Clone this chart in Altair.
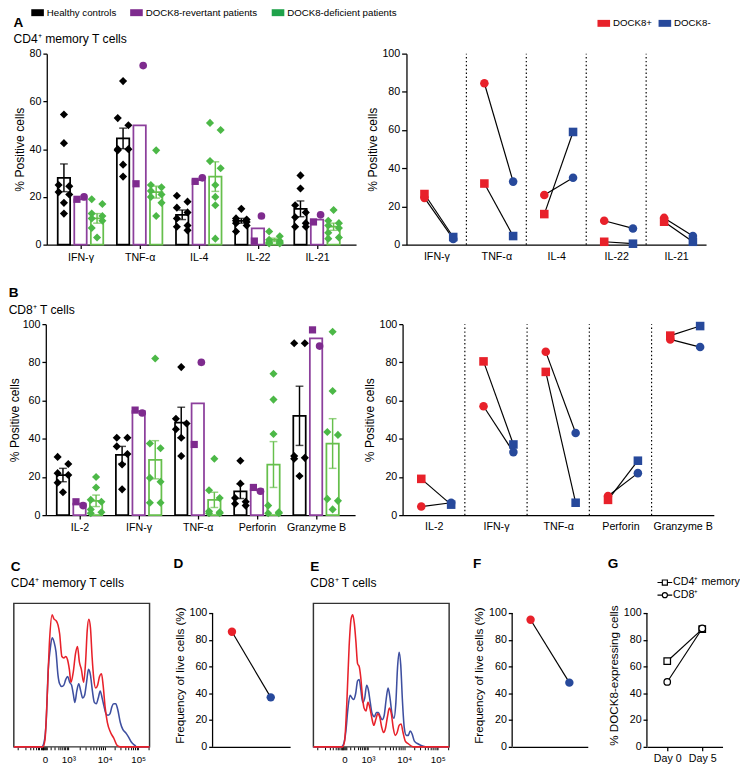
import altair as alt
import pandas as pd

FONT = "Liberation Sans"
BLACK = "#000000"
PURPLE = "#7E2B8E"
PURPLE_BAR = "#8C3F9C"
GREEN_LEG = "#1FA24A"
GREEN_PT = "#4CB847"
GREEN_BAR = "#66BF4C"
RED = "#E8212A"
BLUE = "#27499B"
BLUE_H = "#3E4FA0"

groups = ["Healthy controls", "DOCK8-revertant patients", "DOCK8-deficient patients"]
statuses = ["DOCK8+", "DOCK8-"]

# ---------------- Panel A: CD4+ memory T cells ----------------
a_cytokines = ["IFN-γ", "TNF-α", "IL-4", "IL-22", "IL-21"]
a_healthy = [
    [54.5, 42.5, 25, 24.5, 22, 21, 17.5, 13],
    [68.5, 53, 50, 40, 40, 39.5, 33.5, 28.5],
    [20.5, 18, 15.5, 13.5, 11, 8, 7.5, 6],
    [15, 11, 10.5, 10, 9.5, 9, 8, 5.5],
    [29, 23.5, 16.5, 13.5, 11.5, 9, 7.5, 7.5],
]
a_healthy_mean = [28, 44.5, 12.5, 10, 15]
a_healthy_sem = [5.8, 4.3, 2.0, 1.0, 3.3]
a_rev_circle = [20, 75, 28, 12, 12.5]
a_rev_square = [19, 25.5, 26.5, 1.5, 9.5]
a_rev_mean = [19, 50, 27, 6.8, 10.5]
a_deficient = [
    [19, 17, 13, 12, 11, 10, 7, 3],
    [39.5, 25, 24, 22.5, 21, 20, 17.5, 12],
    [51, 48, 35, 32, 25, 20, 16.5, 2.5],
    [5.5, 3.5, 2, 1.5, 1, 1, 0.5, 0.5],
    [14.5, 10, 9, 8, 7, 5, 3, 2.5],
]
a_def_mean = [11, 22, 28.5, 2, 7.5]
a_def_sem = [2, 2.5, 6.2, 0.7, 1.5]

# right: DOCK8+ vs DOCK8- sorted cells, two patients (circle / square)
a_circle_pos = [24.5, 84.5, 26, 12.5, 14]
a_circle_neg = [3, 33, 35, 8.5, 4.5]
a_square_pos = [26.5, 32, 16, 1.5, 12]
a_square_neg = [4, 4.5, 59, 0.5, 1.5]

# ---------------- Panel B: CD8+ T cells ----------------
b_cytokines = ["IL-2", "IFN-γ", "TNF-α", "Perforin", "Granzyme B"]
b_healthy = [
    [30.5, 26.8, 22, 21, 17, 12],
    [40.5, 40.5, 36, 32, 26.5, 13.5],
    [77.5, 50.5, 48, 45, 40.5, 31],
    [28.5, 16.5, 9, 7, 6, 5],
    [90, 90, 31, 30, 29.5, 20.5],
]
b_healthy_mean = [21, 31.5, 48.5, 12.5, 52]
b_healthy_sem = [3.5, 4.5, 8, 3.8, 15.5]
b_rev_circle = [5, 53.5, 80, 12.5, 88.5]
b_rev_square = [7, 55, 37, 14.5, 97]
b_rev_mean = [6, 54.5, 58.5, 13.5, 92.5]
b_deficient = [
    [20, 14.5, 8, 7, 3, 1.5, 1],
    [82, 37.5, 35, 19.5, 17.5, 6.5, 6.5],
    [29.5, 13, 9, 2, 1.5, 1, 1],
    [74, 60.5, 42.5, 5, 1.5, 1, 1],
    [96, 65, 43.5, 42, 8.5, 7.5, 3],
]
b_def_mean = [7.5, 29, 8, 26.5, 37.5]
b_def_sem = [3, 10, 4, 12, 13]

b_circle_pos = [4.5, 57, 85.5, 10, 92]
b_circle_neg = [6.5, 33, 43, 22, 88]
b_square_pos = [19, 80.5, 75, 8, 94]
b_square_neg = [5.5, 37, 6.5, 28.5, 99]

# ---------------- Histograms (display channel vs % of max) ----------------
c_channel_red = [22, 112, 118, 125, 132, 140, 146, 152, 158, 163, 170, 176, 182, 187, 193, 198, 205, 212, 218, 224,
                 230, 237, 243, 248, 253, 258, 263, 268, 274, 280, 286, 292, 297, 303, 310, 320, 330, 340, 350, 440]
c_red = [0, 0, 5, 36, 74, 92, 89, 88, 85, 79, 63, 62, 63, 61, 54, 45, 52, 65, 70, 59,
         54, 45, 59, 81, 89, 83, 63, 48, 41, 43, 49, 51, 43, 28, 17, 10, 6, 1, 0, 0]
c_channel_blue = [22, 108, 115, 122, 128, 134, 140, 146, 152, 158, 163, 170, 176, 182, 188, 194, 200, 205, 210, 216,
                  222, 228, 234, 240, 246, 252, 258, 264, 270, 276, 282, 288, 294, 300, 306, 312, 318, 324, 330, 336,
                  342, 350, 358, 366, 375, 385, 395, 400, 440]
c_blue = [0, 0, 3, 19, 54, 68, 76, 73, 66, 50, 44, 42, 43, 47, 49, 45, 43, 37, 31, 39,
          44, 39, 34, 36, 45, 54, 50, 39, 31, 30, 34, 39, 34, 28, 23, 22, 23, 28, 30, 30,
          26, 17, 12, 10, 7, 3, 1, 0, 0]
e_channel_red = [22, 112, 118, 125, 132, 138, 143, 148, 153, 158, 163, 168, 173, 178, 184, 190, 196, 202, 208, 214,
                 220, 226, 232, 238, 244, 250, 256, 262, 268, 274, 280, 286, 292, 298, 305, 315, 330, 440]
e_red = [0, 0, 4, 31, 70, 89, 92, 86, 73, 58, 56, 48, 35, 27, 25, 31, 27, 20, 15, 19,
         23, 21, 14, 10, 13, 21, 27, 23, 13, 8, 10, 15, 16, 10, 4, 2, 0, 0]
e_channel_blue = [22, 108, 115, 122, 128, 135, 141, 146, 152, 158, 163, 168, 174, 180, 186, 191, 197, 203, 210, 216,
                  222, 228, 234, 240, 246, 252, 258, 264, 270, 276, 281, 286, 291, 296, 302, 308, 314, 320, 326, 333,
                  345, 360, 370, 440]
e_blue = [0, 0, 2, 11, 26, 36, 34, 33, 37, 46, 47, 40, 31, 34, 43, 40, 31, 23, 21, 24,
          24, 21, 19, 22, 33, 41, 34, 23, 20, 31, 55, 66, 57, 33, 13, 8, 8, 11, 9, 4,
          2, 0.5, 0, 0]
hist_major = [118, 190, 302, 405]
hist_major_labels = ["0", "10³", "10⁴", "10⁵"]
hist_minor = [35, 58, 72, 82, 90, 96, 101, 105, 108, 111, 113, 115, 121, 123, 135, 148, 158, 166, 172, 177, 181,
              185, 224, 243, 257, 268, 277, 285, 291, 297, 333, 351, 364, 374, 382, 389, 395, 400, 436]

# ---------------- D, F, G ----------------
d_vals = [86, 37]
f_vals = [95, 48]
days = ["Day 0", "Day 5"]
g_series = ["CD4⁺ memory", "CD8⁺"]
g_cd4 = [64, 88]
g_cd8 = [48.5, 88.5]

IND = dict(color="independent", shape="independent", stroke="independent", fill="independent", size="independent")
RECT = "M-1,-0.55H1V0.55H-1Z"
PATH_SQ = "M-1.6,0H-0.55M0.55,0H1.6M-0.55,-0.55H0.55V0.55H-0.55Z"
PATH_CI = "M-1.6,0H-0.55M0.55,0H1.6M-0.55,0A0.55,0.55,0,1,1,0.55,0A0.55,0.55,0,1,1,-0.55,0Z"

H_A, H_B, H_C = 197, 197, 148
YTOP = 100 * H_C / 138.0


def beeswarm(values, thresh):
    order = sorted(range(len(values)), key=lambda i: -values[i])
    offs = [0.0] * len(values)
    clusters, cur = [], [order[0]]
    for a, b in zip(order, order[1:]):
        if values[a] - values[b] < thresh:
            cur.append(b)
        else:
            clusters.append(cur)
            cur = [b]
    clusters.append(cur)
    for cl in clusters:
        if len(cl) > 1:
            for j, idx in enumerate(cl):
                offs[idx] = -0.09 if j % 2 == 0 else 0.09
    return offs


def title(letter, sub=None, offset=0):
    kw = dict(text=letter, anchor="start", fontSize=14, fontWeight="bold", offset=offset, font=FONT, color="black")
    if sub:
        kw.update(subtitle=sub, subtitleFontSize=12.5, subtitleFont=FONT, subtitleColor="black", subtitlePadding=4)
    return alt.TitleParams(**kw)


def spacer():
    return alt.Chart(pd.DataFrame({"z": [0]})).mark_point(opacity=0, size=0).properties(width=1, height=1)


def spacer_legend():
    # legend of the three subject groups, shown at the top of the figure
    return alt.Chart(pd.DataFrame({"grp": groups})).mark_square(opacity=0, size=0).encode(
        fill=alt.Fill("grp:N", scale=alt.Scale(domain=groups, range=[BLACK, PURPLE, GREEN_LEG]),
                      legend=alt.Legend(orient="none", legendX=18, legendY=-49, direction="horizontal",
                                        title=None, symbolType=RECT, symbolSize=169, symbolOpacity=1,
                                        symbolStrokeWidth=0, labelFontSize=10, columnPadding=14,
                                        labelOffset=3, offset=0))).properties(width=1, height=1)


def bar_panel(cytos, healthy, h_mean, h_sem, rev_c, rev_s, r_mean, defi, d_mean, d_sem,
              ymax, xdom, width, height, ttl, tick_size, title_pad):
    off = [-0.28, 0.0, 0.28]
    half = 0.105
    ppu = height / ymax
    bars, errs, caps, pts = [], [], [], []
    for i in range(len(cytos)):
        means = [h_mean[i], r_mean[i], d_mean[i]]
        for g in range(3):
            xc = i + off[g]
            bars.append({"grp": groups[g], "x0": xc - half, "x1": xc + half, "m": means[g]})
        for g, m, s in ((0, h_mean[i], h_sem[i]), (2, d_mean[i], d_sem[i])):
            xc = i + off[g]
            errs.append({"grp": groups[g], "xc": xc, "lo": m - s, "hi": m + s})
            caps.append({"grp": groups[g], "xc": xc, "y": m - s})
            caps.append({"grp": groups[g], "xc": xc, "y": m + s})
        for g, vals in ((0, healthy[i]), (2, defi[i])):
            for v, o in zip(vals, beeswarm(vals, 8.5 / ppu)):
                pts.append({"grp": groups[g], "shp": "diamond", "xp": i + off[g] + o, "v": v})
        pts.append({"grp": groups[1], "shp": "square", "xp": i + off[1] - 0.06, "v": rev_s[i]})
        pts.append({"grp": groups[1], "shp": "circle", "xp": i + off[1] + 0.06, "v": rev_c[i]})
    xs = alt.Scale(domain=xdom, nice=False, zero=False)
    ys = alt.Scale(domain=[0, ymax], nice=False)
    label_expr = "[" + ",".join("'%s'" % c for c in cytos) + "][datum.value]"
    yvals = list(range(0, ymax + 1, 20))
    xaxis = alt.Axis(values=list(range(len(cytos))), tickCount=len(cytos), labelExpr=label_expr, title=None,
                     tickSize=4, labelFontSize=11, labelPadding=3, grid=False, labelOverlap=False)
    yaxis = alt.Axis(values=yvals, tickCount=len(yvals), title="% Positive cells", tickSize=tick_size,
                     titlePadding=title_pad, labelFontSize=11, titleFontSize=12.5, grid=False, labelPadding=2,
                     labelOverlap=False)
    stroke_scale = alt.Scale(domain=groups, range=[BLACK, PURPLE_BAR, GREEN_BAR])
    color_scale = alt.Scale(domain=groups, range=[BLACK, PURPLE, GREEN_PT])
    b = alt.Chart(pd.DataFrame(bars)).mark_bar(fill="white", strokeWidth=1.8).encode(
        x=alt.X("x0:Q", scale=xs, axis=xaxis), x2="x1:Q",
        y=alt.Y("m:Q", scale=ys, axis=yaxis), y2=alt.datum(0),
        stroke=alt.Stroke("grp:N", scale=stroke_scale, legend=None))
    e = alt.Chart(pd.DataFrame(errs)).mark_rule(strokeWidth=1.5).encode(
        x="xc:Q", y="lo:Q", y2="hi:Q", stroke=alt.Stroke("grp:N", scale=stroke_scale, legend=None))
    c = alt.Chart(pd.DataFrame(caps)).mark_tick(orient="horizontal", size=8, thickness=1.5).encode(
        x="xc:Q", y="y:Q", fill=alt.Fill("grp:N", scale=stroke_scale, legend=None))
    p = alt.Chart(pd.DataFrame(pts)).mark_point(filled=True, opacity=1).encode(
        x="xp:Q", y="v:Q",
        color=alt.Color("grp:N", scale=color_scale, legend=None),
        shape=alt.Shape("shp:N", scale=alt.Scale(domain=["diamond", "circle", "square"],
                                                  range=["diamond", "circle", "square"]), legend=None),
        size=alt.Size("shp:O", scale=alt.Scale(domain=["diamond", "circle", "square"], range=[70, 55, 50]),
                      legend=None))
    return alt.layer(b, e, c, p).properties(width=width, height=height, title=ttl)


def line_panel(cytos, c_pos, c_neg, s_pos, s_neg, width, height, legend, tick_size):
    rows = []
    for i in range(len(cytos)):
        for pat, pos, neg in (("circle", c_pos[i], c_neg[i]), ("square", s_pos[i], s_neg[i])):
            rows.append({"pair": "%d-%s" % (i, pat), "pat": pat, "st": "DOCK8+", "xp": i + 0.3, "v": pos})
            rows.append({"pair": "%d-%s" % (i, pat), "pat": pat, "st": "DOCK8-", "xp": i + 0.78, "v": neg})
    df = pd.DataFrame(rows)
    n = len(cytos)
    xs = alt.Scale(domain=[0, n], nice=False, zero=False)
    ys = alt.Scale(domain=[0, 100], nice=False)
    label_expr = "[" + ",".join("'%s'" % c for c in cytos) + "][floor(datum.value)]"
    xaxis = alt.Axis(values=[i + 0.5 for i in range(n)], tickCount=n, labelExpr=label_expr, ticks=False,
                     title=None, labelFontSize=11, labelPadding=6, grid=False, labelOverlap=False)
    yaxis = alt.Axis(values=list(range(0, 101, 20)), tickCount=6, title="% Positive cells", tickSize=tick_size,
                     labelFontSize=11, titleFontSize=12.5, grid=False, labelPadding=2, titlePadding=3,
                     labelOverlap=False)
    base = alt.Chart(df).encode(x=alt.X("xp:Q", scale=xs, axis=xaxis), y=alt.Y("v:Q", scale=ys, axis=yaxis))
    lines = base.mark_line(color="black", strokeWidth=1.2).encode(detail="pair:N")
    if legend:
        leg = alt.Legend(orient="none", legendX=197, legendY=-38, direction="horizontal", title=None,
                         symbolType=RECT, symbolSize=169, labelFontSize=10, columnPadding=6, offset=0,
                         symbolStrokeWidth=0, labelOffset=3)
    else:
        leg = None
    pts = base.mark_point(filled=True, opacity=1, size=78).encode(
        color=alt.Color("st:N", scale=alt.Scale(domain=statuses, range=[RED, BLUE]), legend=leg),
        shape=alt.Shape("pat:N", scale=alt.Scale(domain=["circle", "square"], range=["circle", "square"]),
                        legend=None))
    div = alt.Chart(pd.DataFrame({"b": list(range(1, n))})).mark_rule(
        strokeDash=[1.5, 2.5], color="black", strokeWidth=1.2).encode(
        x="b:Q", y=alt.datum(0), y2=alt.datum(100))
    return alt.layer(lines, div, pts).properties(width=width, height=height)


def hist_panel(ch_red, red, ch_blue, blue, width, height, ttl):
    xs = alt.Scale(domain=[22, 440], nice=False, zero=False)
    ys = alt.Scale(domain=[0, 100], nice=False)
    vals = sorted(hist_major + hist_minor)
    expr = "".join("datum.value == %d ? '%s' : " % (v, l) for v, l in zip(hist_major, hist_major_labels)) + "''"
    xaxis = alt.Axis(values=vals, tickCount=len(vals), labelExpr=expr, domain=False, tickSize=3, tickWidth=1,
                     labelFontSize=10, title=None, labelPadding=5, grid=False, labelFlush=False,
                     labelOverlap=False)
    blue_l = alt.Chart(pd.DataFrame({"ch": ch_blue, "v": blue})).mark_line(
        color=BLUE_H, strokeWidth=1.6, interpolate="monotone").encode(
        x=alt.X("ch:Q", scale=xs, axis=xaxis), y=alt.Y("v:Q", scale=ys, axis=None))
    red_l = alt.Chart(pd.DataFrame({"ch": ch_red, "v": red})).mark_line(
        color=RED, strokeWidth=1.6, interpolate="monotone").encode(x="ch:Q", y="v:Q")
    return alt.layer(blue_l, red_l).properties(
        width=width, height=height, title=ttl,
        view=alt.ViewBackground(stroke="#333333", strokeWidth=1.5))


def freq_yaxis(t):
    return alt.Axis(values=[0, 20, 40, 60, 80, 100], tickCount=6, domain=False, title=t, tickSize=4,
                    labelFontSize=11, titleFontSize=12, titlePadding=3, labelPadding=2, grid=False,
                    labelOverlap=False)


def axis_rule():
    return alt.Chart(pd.DataFrame({"a": [0]})).mark_rule(color="black", strokeWidth=1.3).encode(
        x=alt.value(0), y=alt.datum(0), y2=alt.datum(100))


def freq_panel(vals, width, height, ttl, pad):
    df = pd.DataFrame({"st": statuses, "v": vals})
    base = alt.Chart(df).encode(
        x=alt.X("st:N", sort=statuses, scale=alt.Scale(type="point", padding=pad),
                axis=alt.Axis(labels=False, ticks=False, title=None)),
        y=alt.Y("v:Q", scale=alt.Scale(domain=[0, YTOP], nice=False),
                axis=freq_yaxis("Frequency of live cells (%)")))
    line = base.mark_line(color="black", strokeWidth=1.2)
    pts = base.mark_point(filled=True, opacity=1, size=75).encode(
        color=alt.Color("st:N", scale=alt.Scale(domain=statuses, range=[RED, BLUE]), legend=None))
    return alt.layer(line, pts, axis_rule()).properties(width=width, height=height, title=ttl)


def g_panel(width, height, ttl):
    rows = []
    for s, vals in ((g_series[0], g_cd4), (g_series[1], g_cd8)):
        for d, v in zip(days, vals):
            rows.append({"ser": s, "day": d, "v": v})
    df = pd.DataFrame(rows)
    base = alt.Chart(df).encode(
        x=alt.X("day:N", sort=days, scale=alt.Scale(type="point", padding=0.58),
                axis=alt.Axis(title=None, labelAngle=0, tickSize=4, labelFontSize=11, labelPadding=2)),
        y=alt.Y("v:Q", scale=alt.Scale(domain=[0, YTOP], nice=False),
                axis=freq_yaxis("% DOCK8-expressing cells")))
    lines = base.mark_line(color="black", strokeWidth=1.2).encode(detail="ser:N")
    pts = base.mark_point(filled=False, color="black", fill="white", fillOpacity=1, strokeWidth=1.3,
                          size=45, opacity=1).encode(
        shape=alt.Shape("ser:N", scale=alt.Scale(domain=g_series, range=["square", "circle"]), legend=None))
    leg = alt.Chart(pd.DataFrame({"ser2": g_series})).mark_point(opacity=0, color="black").encode(
        shape=alt.Shape("ser2:N", scale=alt.Scale(domain=g_series, range=[PATH_SQ, PATH_CI]),
                        legend=alt.Legend(orient="none", legendX=13, legendY=-27, title=None, symbolSize=90,
                                          symbolOpacity=1, symbolStrokeColor="black", symbolStrokeWidth=1.2,
                                          labelFontSize=11, rowPadding=1, labelOffset=3, offset=0)))
    return alt.layer(lines, pts, axis_rule(), leg).resolve_scale(shape="independent").properties(
        width=width, height=height, title=ttl)


A_left = bar_panel(a_cytokines, a_healthy, a_healthy_mean, a_healthy_sem, a_rev_circle, a_rev_square,
                   a_rev_mean, a_deficient, a_def_mean, a_def_sem, 80, [-0.57, 4.66], 319, H_A,
                   title("A", "CD4⁺ memory T cells", 2), 4, 3)
A_right = line_panel(a_cytokines, a_circle_pos, a_circle_neg, a_square_pos, a_square_neg, 309, H_A, True, 5)
B_left = bar_panel(b_cytokines, b_healthy, b_healthy_mean, b_healthy_sem, b_rev_circle, b_rev_square,
                   b_rev_mean, b_deficient, b_def_mean, b_def_sem, 100, [-0.57, 4.66], 319, H_B,
                   title("B", "CD8⁺ T cells", 2), 4, 1)
B_right = line_panel(b_cytokines, b_circle_pos, b_circle_neg, b_square_pos, b_square_neg, 321, H_B, False, 4)

C = hist_panel(c_channel_red, c_red, c_channel_blue, c_blue, 140, H_C, title("C", "CD4⁺ memory T cells", 14))
D = freq_panel(d_vals, 80, H_C, title("D", None, 34), 0.5)
E = hist_panel(e_channel_red, e_red, e_channel_blue, e_blue, 140, H_C, title("E", "CD8⁺ T cells", 14))
F = freq_panel(f_vals, 78, H_C, title("F", None, 34), 0.475)
G = g_panel(78, H_C, title("G", None, 7))

pairA = alt.hconcat(A_left, A_right, spacing=52, bounds="flush").resolve_scale(**IND)
pairB = alt.hconcat(B_left, B_right, spacing=49, bounds="flush").resolve_scale(**IND)
rowA = alt.hconcat(spacer_legend(), pairA, spacing=33, bounds="flush").resolve_scale(**IND)
rowB = alt.hconcat(spacer(), pairB, spacing=32, bounds="flush").resolve_scale(**IND)
rowC = alt.hconcat(C, D, E, F, G, spacing=20).resolve_scale(**IND)


def build(pad_top, spacing):
    return alt.concat(rowA, rowB, rowC, columns=1, spacing=spacing, align="none").resolve_scale(
        **IND).properties(padding={"top": pad_top, "left": 0, "right": 0, "bottom": 0}).configure(
        font=FONT).configure_axis(
        domainColor="black", tickColor="black", labelColor="black", titleColor="black", domainWidth=1.3,
        tickWidth=1.3, labelFont=FONT, titleFont=FONT, titleFontWeight="normal", grid=False,
        labelOverlap=False).configure_legend(
        labelFont=FONT, labelColor="black", offset=0).configure_view(stroke=None)


try:
    build(-14, 25).save("out.html", embed_options={"renderer": "svg", "actions": False})
except Exception:
    build(0, 21).save("out.html", embed_options={"renderer": "svg", "actions": False})
